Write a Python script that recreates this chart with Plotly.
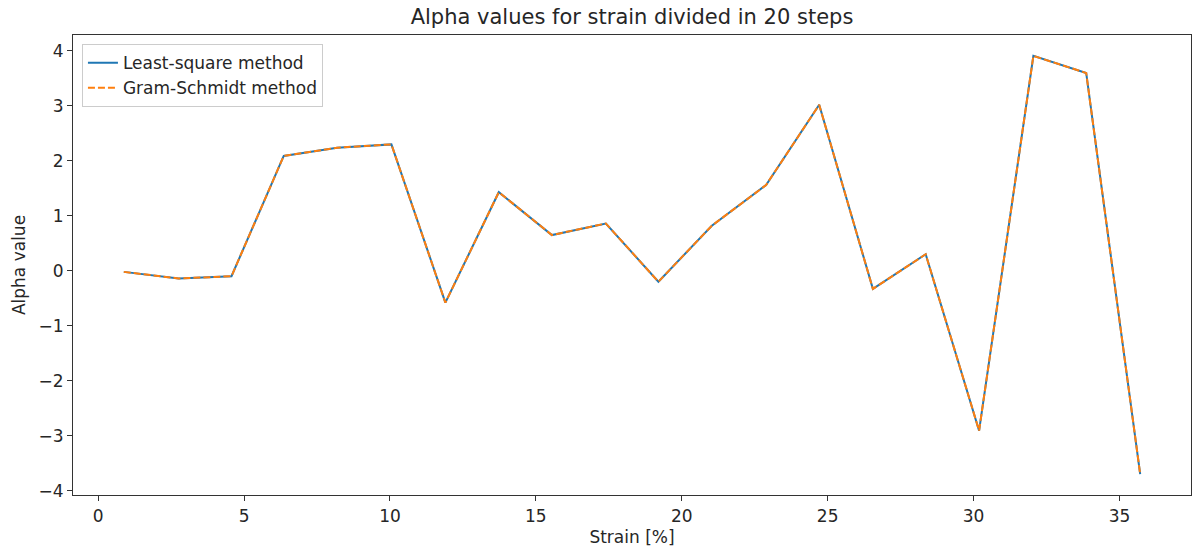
import plotly.graph_objects as go

strain = [0.88, 2.76, 4.57, 6.36, 8.19, 10.05, 11.90, 13.73, 15.55, 17.40,
          19.20, 21.03, 22.89, 24.71, 26.55, 28.36, 30.19, 32.05, 33.86, 35.71]
alpha_ls = [-0.02, -0.14, -0.10, 2.09, 2.24, 2.30, -0.58, 1.43, 0.65, 0.86,
            -0.20, 0.82, 1.56, 3.02, -0.33, 0.30, -2.91, 3.91, 3.60, -3.70]
alpha_gs = list(alpha_ls)

x_ticks = [0, 5, 10, 15, 20, 25, 30, 35]
y_ticks = [-4, -3, -2, -1, 0, 1, 2, 3, 4]

font = "DejaVu Sans"
txt = "#262626"
fs = 17

fig = go.Figure()
fig.add_trace(go.Scatter(x=strain, y=alpha_ls, mode="lines", name="Least-square method",
                         line=dict(color="#1f77b4", width=2)))
fig.add_trace(go.Scatter(x=strain, y=alpha_gs, mode="lines", name="Gram-Schmidt method",
                         line=dict(color="#ff7f0e", width=2, dash="7px,3px")))

xmin, xmax = min(strain), max(strain)
ymin, ymax = min(alpha_ls), max(alpha_ls)
xp = (xmax - xmin) * 0.05
yp = (ymax - ymin) * 0.05

axis_common = dict(showline=True, linecolor="#333333", linewidth=1.2, mirror=True,
                   ticks="outside", ticklen=5, tickcolor="#333333", tickwidth=1.2,
                   showgrid=False, zeroline=False, automargin=False,
                   tickfont=dict(family=font, size=fs, color=txt))

fig.update_layout(
    width=1192, height=550,
    paper_bgcolor="white", plot_bgcolor="white",
    margin=dict(l=73, r=1, t=35, b=55),
    title=dict(text="Alpha values for strain divided in 20 steps", x=0.5, xanchor="center",
               xref="paper", yref="container",
               y=0.97, yanchor="middle", font=dict(family=font, size=21, color=txt)),
    xaxis=dict(range=[xmin - xp, xmax + xp], tickvals=x_ticks,
               title=dict(text="Strain [%]", font=dict(family=font, size=fs, color=txt), standoff=6),
               **axis_common),
    yaxis=dict(range=[ymin - yp, ymax + yp], tickvals=y_ticks,
               ticktext=[("\u2212" + str(-v)) if v < 0 else str(v) for v in y_ticks],
               title=dict(text="Alpha value", font=dict(family=font, size=fs, color=txt), standoff=8),
               **axis_common),
    legend=dict(x=0.008, y=0.98, xanchor="left", yanchor="top",
                bgcolor="rgba(255,255,255,0.8)", bordercolor="#cccccc", borderwidth=1,
                font=dict(family=font, size=fs, color=txt), tracegroupgap=2),
    showlegend=True,
)

# remove the page's default body margin so the figure fills the window exactly
fig.write_html("out.html", config={"displayModeBar": False},
               post_script="document.body.style.margin='0px';")
